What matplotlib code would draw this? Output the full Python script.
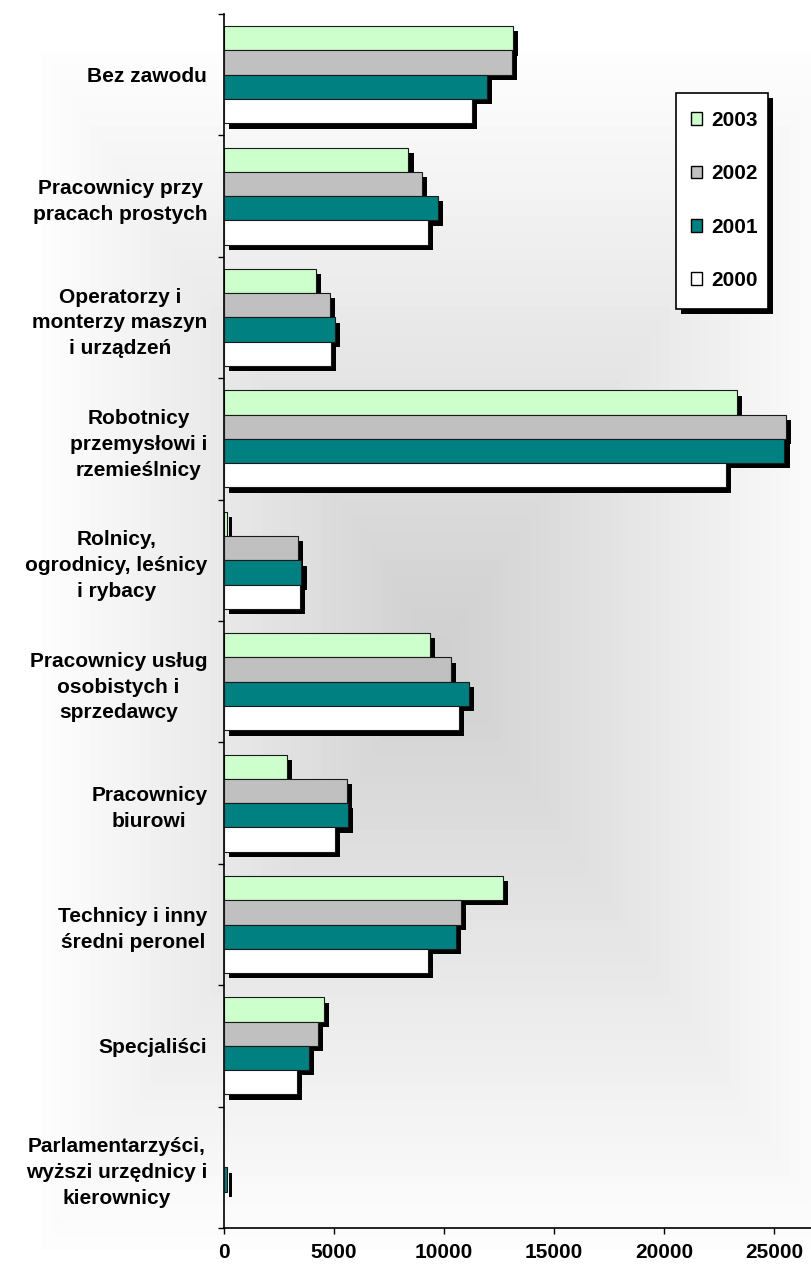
import numpy as np
import matplotlib
matplotlib.use("Agg")
import matplotlib.pyplot as plt
from matplotlib.patches import Patch, Rectangle
import matplotlib.patheffects as pe

# ---- data (top to bottom) ----
categories = [
    "Bez zawodu",
    "Pracownicy przy\npracach prostych",
    "Operatorzy i\nmonterzy maszyn\ni urządzeń",
    "Robotnicy\nprzemysłowi i\nrzemieślnicy",
    "Rolnicy,\nogrodnicy, leśnicy\ni rybacy",
    "Pracownicy usług\nosobistych i\nsprzedawcy",
    "Pracownicy\nbiurowi",
    "Technicy i inny\nśredni peronel",
    "Specjaliści",
    "Parlamentarzyści,\nwyższi urzędnicy i\nkierownicy",
]
years = ["2003", "2002", "2001", "2000"]
v2003 = [13140, 8380, 4180, 23300, 120, 9360, 2860, 12680, 4550, 0]
v2002 = [13080, 8990, 4820, 25550, 3350, 10320, 5590, 10770, 4270, 0]
v2001 = [11950, 9710, 5050, 25470, 3520, 11140, 5640, 10550, 3860, 120]
v2000 = [11260, 9260, 4860, 22820, 3440, 10680, 5050, 9270, 3320, 0]
series = [v2003, v2002, v2001, v2000]
colors = ["#CCFFCC", "#C0C0C0", "#008080", "#FFFFFF"]
xticks = [0, 5000, 10000, 15000, 20000, 25000]

plt.rcParams["font.family"] = ["Liberation Sans", "DejaVu Sans"]
plt.rcParams["font.weight"] = "bold"

W, H = 812, 1271
fig = plt.figure(figsize=(W / 100, H / 100), dpi=100)

# ---- background rectangular gradient ----
bg = fig.add_axes([0, 0, 1, 1], zorder=0)
yy, xx = np.mgrid[0:H, 0:W]
cx, cy, hx, hy = 440, 650, 400, 600
d = np.maximum(np.abs(xx - cx) / hx, np.abs(yy - cy) / hy)
d = np.clip(d, 0, 1)
d = np.floor(d * 40) / 40
g = 208 + (255 - 208) * d
img = np.dstack([g, g, g]) / 255.0
bg.imshow(img, extent=[0, W, H, 0], aspect="auto", interpolation="nearest")
bg.set_xlim(0, W)
bg.set_ylim(H, 0)
bg.axis("off")

# ---- main axes ----
left, right, top, bottom = 224, 812, 14, 1228
ax = fig.add_axes([left / W, (H - bottom) / H, (right - left) / W, (bottom - top) / H], zorder=1)
ax.set_facecolor("none")

n = len(categories)
ypos = np.arange(n)[::-1]  # top category at highest y
offsets = [0.3, 0.1, -0.1, -0.3]
shadow = [pe.SimplePatchShadow(offset=(3.8, -3.8), shadow_rgbFace="black", alpha=1.0), pe.Normal()]
for k, (vals, col, off) in enumerate(zip(series, colors, offsets)):
    vals = np.array(vals, dtype=float)
    mask = vals > 0
    bars = ax.barh(ypos[mask] + off, vals[mask], height=0.2, color=col,
                   edgecolor="#1a1a1a", linewidth=0.8, zorder=2 + k)
    for b in bars:
        b.set_path_effects(shadow)

ax.set_xlim(0, 588 / 22 * 1000)
ax.set_ylim(-0.5, n - 0.5)

# category boundary ticks
ax.set_yticks(np.arange(-0.5, n, 1.0))
ax.set_yticklabels([])
ax.tick_params(axis="y", which="major", direction="out", length=4.5, width=1.0, color="black")
ax.set_yticks(ypos, minor=True)
ax.set_yticklabels(categories, minor=True, fontsize=15, fontweight="bold")
ax.tick_params(axis="y", which="minor", length=0, pad=12)
for t in ax.get_yticklabels(minor=True):
    t.set_multialignment("center")
    t.set_linespacing(1.45)

ax.set_xticks(xticks)
ax.set_xticklabels([str(x) for x in xticks], fontsize=15, fontweight="bold")
ax.tick_params(axis="x", direction="out", length=4, width=1.0, pad=7)

for s in ["top", "right"]:
    ax.spines[s].set_visible(False)
ax.spines["left"].set_linewidth(1.2)
ax.spines["bottom"].set_linewidth(1.2)

# ---- legend box (frame drawn separately) ----
box = Rectangle((676 / W, 1 - 309 / H), 92 / W, 216 / H, transform=fig.transFigure,
                facecolor="white", edgecolor="black", linewidth=1.2, zorder=10,
                path_effects=[pe.SimplePatchShadow(offset=(3.8, -3.8), shadow_rgbFace="black", alpha=1.0),
                              pe.Normal()])
fig.add_artist(box)

handles = [Patch(facecolor=c, edgecolor="black", linewidth=1.0) for c in colors]
leg = fig.legend(handles, years, loc="upper left",
                 bbox_to_anchor=(691 / W, 1 - 111 / H), bbox_transform=fig.transFigure,
                 borderaxespad=0, frameon=False, borderpad=0,
                 prop={"size": 15, "weight": "bold"},
                 handlelength=0.55, handleheight=0.55, handletextpad=0.4,
                 labelspacing=1.65)
leg.set_zorder(20)

fig.savefig("out.png", dpi=100)
